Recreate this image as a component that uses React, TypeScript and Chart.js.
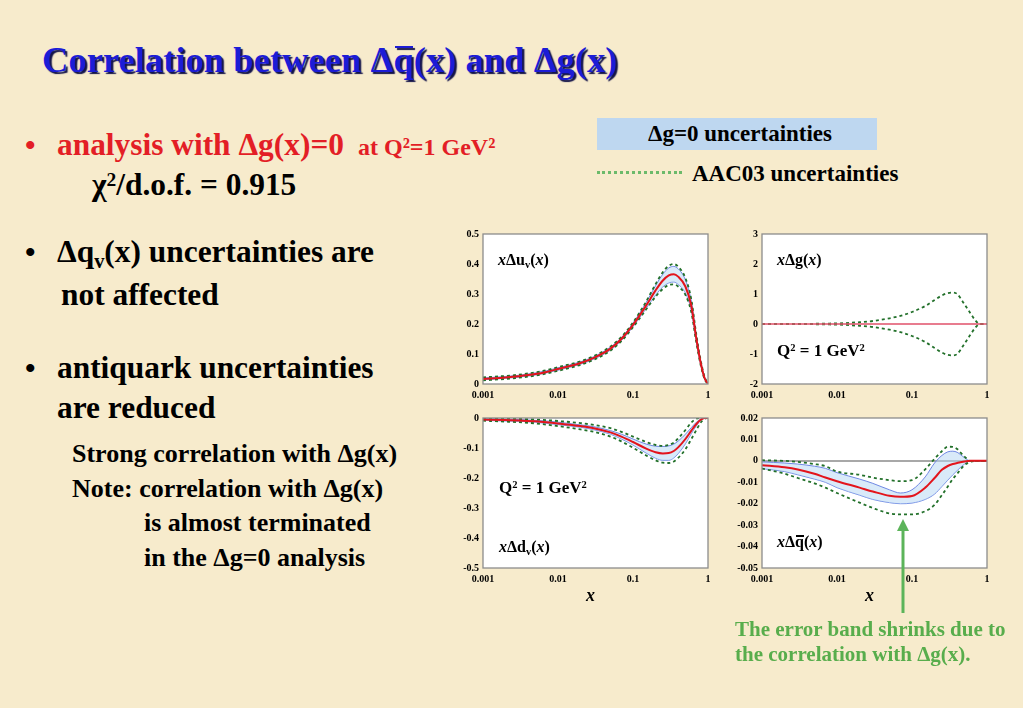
import React, { useEffect, useRef } from "react";
import { Chart, registerables } from "chart.js";
Chart.register(...registerables);

const SERIF = '"Liberation Serif","Times New Roman",Times,serif';

// ---- data ----
const X_GRID = [0.001, 0.002, 0.003, 0.005, 0.007, 0.01, 0.02, 0.03, 0.05, 0.07, 0.1, 0.15, 0.2, 0.25, 0.3, 0.35, 0.4, 0.5, 0.6, 0.7, 0.8, 0.9, 1];
const X_TICKS = [0.001, 0.01, 0.1, 1];

// x Δu_v(x)
const UV_Y_TICKS = [0, 0.1, 0.2, 0.3, 0.4, 0.5];
const UV_CENTRAL = [0.017, 0.022, 0.026, 0.033, 0.040, 0.050, 0.070, 0.087, 0.118, 0.150, 0.197, 0.262, 0.312, 0.345, 0.362, 0.366, 0.358, 0.325, 0.260, 0.150, 0.070, 0.020, 0];
const UV_BAND_UP = [0.020, 0.025, 0.029, 0.037, 0.044, 0.054, 0.074, 0.091, 0.123, 0.155, 0.203, 0.272, 0.328, 0.366, 0.387, 0.392, 0.384, 0.347, 0.276, 0.160, 0.076, 0.023, 0];
const UV_BAND_LO = [0.014, 0.019, 0.023, 0.030, 0.037, 0.046, 0.066, 0.083, 0.113, 0.145, 0.191, 0.252, 0.296, 0.324, 0.337, 0.340, 0.332, 0.303, 0.244, 0.140, 0.064, 0.017, 0];
const UV_AAC_UP = [0.022, 0.027, 0.031, 0.039, 0.046, 0.056, 0.076, 0.093, 0.125, 0.157, 0.205, 0.275, 0.333, 0.373, 0.394, 0.400, 0.391, 0.353, 0.281, 0.163, 0.078, 0.024, 0];
const UV_AAC_LO = [0.012, 0.017, 0.021, 0.028, 0.035, 0.044, 0.064, 0.081, 0.111, 0.143, 0.189, 0.249, 0.291, 0.317, 0.330, 0.332, 0.325, 0.297, 0.239, 0.137, 0.062, 0.016, 0];

// x Δg(x)
const G_Y_TICKS = [-2, -1, 0, 1, 2, 3];
const G_CENTRAL = [0, 0, 0, 0, 0, 0, 0, 0, 0, 0, 0, 0, 0, 0, 0, 0, 0, 0, 0, 0, 0, 0, 0];
const G_AAC_UP = [0, 0.002, 0.004, 0.008, 0.014, 0.02, 0.06, 0.10, 0.19, 0.27, 0.40, 0.60, 0.80, 0.95, 1.03, 1.05, 1.00, 0.66, 0.36, 0.12, 0, 0, 0];
const G_AAC_LO = [0, -0.002, -0.004, -0.008, -0.014, -0.02, -0.06, -0.10, -0.19, -0.27, -0.40, -0.60, -0.80, -0.95, -1.03, -1.05, -1.00, -0.66, -0.36, -0.12, 0, 0, 0];

// x Δd_v(x)
const DV_Y_TICKS = [-0.5, -0.4, -0.3, -0.2, -0.1, 0];
const DV_CENTRAL = [-0.005, -0.007, -0.008, -0.011, -0.014, -0.018, -0.027, -0.034, -0.048, -0.062, -0.080, -0.102, -0.114, -0.118, -0.117, -0.110, -0.098, -0.070, -0.042, -0.020, -0.006, 0, 0];
const DV_BAND_UP = [-0.002, -0.004, -0.005, -0.008, -0.010, -0.014, -0.023, -0.029, -0.042, -0.054, -0.070, -0.087, -0.094, -0.095, -0.093, -0.087, -0.077, -0.054, -0.032, -0.014, -0.004, 0, 0];
const DV_BAND_LO = [-0.008, -0.010, -0.011, -0.014, -0.018, -0.022, -0.031, -0.039, -0.054, -0.070, -0.090, -0.117, -0.134, -0.141, -0.141, -0.133, -0.119, -0.086, -0.052, -0.026, -0.008, 0, 0];
const DV_AAC_UP = [-0.001, -0.002, -0.003, -0.005, -0.007, -0.010, -0.017, -0.023, -0.034, -0.046, -0.062, -0.080, -0.090, -0.093, -0.090, -0.082, -0.068, -0.040, -0.015, -0.002, 0, 0, 0];
const DV_AAC_LO = [-0.009, -0.012, -0.014, -0.018, -0.022, -0.027, -0.038, -0.046, -0.062, -0.078, -0.099, -0.125, -0.141, -0.149, -0.150, -0.145, -0.133, -0.104, -0.070, -0.040, -0.015, -0.003, 0];

// x Δqbar(x)
const QB_Y_TICKS = [-0.05, -0.04, -0.03, -0.02, -0.01, 0, 0.01, 0.02];
const QB_CENTRAL = [-0.002, -0.003, -0.004, -0.006, -0.0078, -0.0095, -0.0125, -0.0143, -0.0163, -0.0168, -0.0164, -0.0125, -0.008, -0.0042, -0.0024, -0.0015, -0.001, -0.0003, 0, 0, 0, 0, 0];
const QB_BAND_UP = [-0.0005, -0.001, -0.0015, -0.0025, -0.0035, -0.0055, -0.0085, -0.0105, -0.0135, -0.015, -0.0135, -0.0075, -0.001, 0.0025, 0.0042, 0.0045, 0.004, 0.0015, 0, 0, 0, 0, 0];
const QB_BAND_LO = [-0.0036, -0.005, -0.0065, -0.0085, -0.010, -0.0125, -0.016, -0.018, -0.0195, -0.020, -0.0197, -0.018, -0.0155, -0.012, -0.009, -0.0065, -0.0045, -0.0015, 0, 0, 0, 0, 0];
const QB_AAC_UP = [0.0003, 0, -0.0005, -0.0015, -0.0025, -0.005, -0.0065, -0.0078, -0.009, -0.0095, -0.009, -0.004, 0.001, 0.0045, 0.0066, 0.0065, 0.0055, 0.002, 0, 0, 0, 0, 0];
const QB_AAC_LO = [-0.0036, -0.006, -0.008, -0.0105, -0.0125, -0.015, -0.0195, -0.022, -0.0245, -0.025, -0.025, -0.0235, -0.0205, -0.016, -0.012, -0.0085, -0.006, -0.002, -0.0005, 0, 0, 0, 0];

// ---- chart panel ----
const YW = 45; // y-axis width
const XH = 20; // x-axis height
const PT = 10; // top padding
const PR = 12; // right padding
const PW = 225; // plot width
const PH = 150; // plot height

const framePlugin = {
  id: "frame",
  beforeDraw(chart: any) {
    const { ctx, chartArea: a } = chart;
    ctx.save();
    ctx.fillStyle = "#ffffff";
    ctx.fillRect(a.left, a.top, a.right - a.left, a.bottom - a.top);
    ctx.restore();
  },
  afterDraw(chart: any) {
    const { ctx, chartArea: a } = chart;
    ctx.save();
    ctx.strokeStyle = "#8c8c8c";
    ctx.lineWidth = 1.3;
    ctx.strokeRect(a.left, a.top, a.right - a.left, a.bottom - a.top);
    ctx.restore();
  },
};

type PanelProps = {
  plotLeft: number;
  plotTop: number;
  yTicks: number[];
  central: number[];
  centralWidth?: number;
  bandUp?: number[];
  bandLo?: number[];
  aacUp: number[];
  aacLo: number[];
  zeroLine?: boolean;
};

function Panel(props: PanelProps) {
  const ref = useRef<HTMLCanvasElement>(null);
  const { plotLeft, plotTop, yTicks } = props;
  const w = YW + PW + PR;
  const h = PT + PH + XH;
  useEffect(() => {
    const pts = (arr: number[]) => X_GRID.map((x, i) => ({ x, y: arr[i] }));
    const common = { pointRadius: 0, cubicInterpolationMode: "monotone" as const, fill: false };
    const datasets: any[] = [
      { ...common, data: pts(props.central), borderColor: props.centralWidth ? "#e0506a" : "#e3141c", borderWidth: props.centralWidth ?? 2, order: 0 },
      { ...common, data: pts(props.aacUp), borderColor: "#22702a", borderWidth: 1.8, borderDash: [3, 3], order: 1 },
      { ...common, data: pts(props.aacLo), borderColor: "#22702a", borderWidth: 1.8, borderDash: [3, 3], order: 1 },
    ];
    if (props.bandUp && props.bandLo) {
      datasets.push({ ...common, data: pts(props.bandUp), borderColor: "#7088e4", borderWidth: 1, fill: "+1", backgroundColor: "rgba(180,214,244,0.5)", order: 2 });
      datasets.push({ ...common, data: pts(props.bandLo), borderColor: "#7088e4", borderWidth: 1, order: 2 });
    }
    const tickFont = { family: SERIF, size: 10, weight: "bold" as const };
    const hiddenGrid = { display: true, drawOnChartArea: false, drawTicks: false, tickLength: 0, color: "rgba(0,0,0,0)" };
    const chart = new Chart(ref.current!, {
      type: "line",
      data: { datasets },
      plugins: [framePlugin],
      options: {
        animation: false,
        responsive: false,
        maintainAspectRatio: false,
        layout: { padding: { top: PT, right: PR, left: 0, bottom: 0 } },
        plugins: { legend: { display: false }, tooltip: { enabled: false } },
        scales: {
          x: {
            type: "logarithmic",
            min: 0.001,
            max: 1,
            afterBuildTicks: (s: any) => {
              s.ticks = X_TICKS.map((v) => ({ value: v }));
            },
            afterFit: (s: any) => {
              s.height = XH;
            },
            ticks: { autoSkip: false, maxRotation: 0, padding: 5, font: tickFont, color: "#000", callback: (v: any) => String(v) },
            grid: hiddenGrid,
            border: { display: false },
          },
          y: {
            type: "linear",
            min: yTicks[0],
            max: yTicks[yTicks.length - 1],
            afterBuildTicks: (s: any) => {
              s.ticks = yTicks.map((v) => ({ value: v }));
            },
            afterFit: (s: any) => {
              s.width = YW;
            },
            ticks: { autoSkip: false, padding: 4, font: tickFont, color: "#000", callback: (v: any) => String(+Number(v).toFixed(3)) },
            grid: props.zeroLine
              ? {
                  drawTicks: false,
                  tickLength: 0,
                  lineWidth: 2,
                  color: (ctx: any) => (ctx.tick && ctx.tick.value === 0 ? "#a8a8a8" : "rgba(0,0,0,0)"),
                }
              : hiddenGrid,
            border: { display: false },
          },
        },
      },
    } as any);
    return () => chart.destroy();
  }, []);
  return (
    <canvas
      ref={ref}
      width={w}
      height={h}
      style={{ position: "absolute", left: plotLeft - YW, top: plotTop - PT, width: w, height: h }}
    />
  );
}

// ---- text helpers ----
function Txt({ x, y, size, color = "#000", style, children }: any) {
  return (
    <div
      style={{
        position: "absolute",
        left: x,
        top: y - 0.8375 * size,
        fontSize: size,
        lineHeight: `${size}px`,
        fontFamily: SERIF,
        fontWeight: "bold",
        color,
        whiteSpace: "nowrap",
        ...style,
      }}
    >
      {children}
    </div>
  );
}
const Sub = ({ children }: any) => (
  <span style={{ fontSize: "0.65em", position: "relative", top: "0.3em", lineHeight: 0 }}>{children}</span>
);
const Sup = ({ children }: any) => (
  <span style={{ fontSize: "0.62em", position: "relative", top: "-0.45em", lineHeight: 0 }}>{children}</span>
);
const I = ({ children }: any) => <span style={{ fontStyle: "italic" }}>{children}</span>;
const Bar = ({ children, shadow }: any) => (
  <span style={{ position: "relative" }}>
    {children}
    <span
      style={{
        position: "absolute",
        left: "0.04em",
        right: "0.02em",
        top: "0.17em",
        height: "0.075em",
        background: "currentColor",
        boxShadow: shadow,
      }}
    />
  </span>
);

export default function App() {
  return (
    <div
      style={{
        position: "fixed",
        left: 0,
        top: 0,
        width: 1023,
        height: 708,
        overflow: "hidden",
        background: "#f7ebcc",
        fontFamily: SERIF,
      }}
    >
      <Txt x={42} y={73} size={36.6} color="#1c1cd6" style={{ textShadow: "2px 2px 1px #14144a" }}>
        Correlation between Δ<Bar shadow="2px 2px 1px #14144a">q</Bar>(x) and Δg(x)
      </Txt>

      <Txt x={25} y={155} size={30} color="#e31e26">•</Txt>
      <Txt x={57} y={155} size={31.4} color="#e31e26">analysis with Δg(x)=0</Txt>
      <Txt x={358} y={155} size={24} color="#e31e26">at Q²=1 GeV²</Txt>
      <Txt x={92} y={195} size={31.4}>
        χ<Sup>2</Sup>/d.o.f. = 0.915
      </Txt>

      <Txt x={25} y={262} size={30}>•</Txt>
      <Txt x={57} y={262} size={31.4}>
        Δq<Sub>v</Sub>(x) uncertainties are
      </Txt>
      <Txt x={61} y={305} size={31.4}>not affected</Txt>

      <Txt x={25} y={378} size={30}>•</Txt>
      <Txt x={57} y={378} size={31.4}>antiquark uncertainties</Txt>
      <Txt x={57} y={418} size={31.4}>are reduced</Txt>

      <Txt x={72} y={463} size={26}>Strong correlation with Δg(x)</Txt>
      <Txt x={72} y={498} size={26}>Note: correlation with Δg(x)</Txt>
      <Txt x={144} y={532} size={26}>is almost terminated</Txt>
      <Txt x={144} y={567} size={26}>in the Δg=0 analysis</Txt>

      {/* legend */}
      <div style={{ position: "absolute", left: 597, top: 118, width: 280, height: 32, background: "#bed7f0" }} />
      <Txt x={648} y={141} size={23}>Δg=0 uncertainties</Txt>
      <div style={{ position: "absolute", left: 597, top: 171, width: 85, height: 0, borderTop: "3px dotted #6cba6a" }} />
      <Txt x={692} y={181} size={23}>AAC03 uncertainties</Txt>

      {/* charts */}
      <Panel plotLeft={483} plotTop={234} yTicks={UV_Y_TICKS} central={UV_CENTRAL} bandUp={UV_BAND_UP} bandLo={UV_BAND_LO} aacUp={UV_AAC_UP} aacLo={UV_AAC_LO} />
      <Panel plotLeft={762} plotTop={234} yTicks={G_Y_TICKS} central={G_CENTRAL} centralWidth={1.3} aacUp={G_AAC_UP} aacLo={G_AAC_LO} />
      <Panel plotLeft={483} plotTop={418} yTicks={DV_Y_TICKS} central={DV_CENTRAL} bandUp={DV_BAND_UP} bandLo={DV_BAND_LO} aacUp={DV_AAC_UP} aacLo={DV_AAC_LO} />
      <Panel plotLeft={762} plotTop={418} yTicks={QB_Y_TICKS} central={QB_CENTRAL} bandUp={QB_BAND_UP} bandLo={QB_BAND_LO} aacUp={QB_AAC_UP} aacLo={QB_AAC_LO} zeroLine />

      {/* panel labels */}
      <Txt x={498} y={265} size={16}>
        <I>x</I>Δu<Sub>v</Sub>(<I>x</I>)
      </Txt>
      <Txt x={777} y={265} size={16}>
        <I>x</I>Δg(<I>x</I>)
      </Txt>
      <Txt x={777} y={356} size={17}>
        Q<Sup>2</Sup> = 1 GeV<Sup>2</Sup>
      </Txt>
      <Txt x={499} y={493} size={17}>
        Q<Sup>2</Sup> = 1 GeV<Sup>2</Sup>
      </Txt>
      <Txt x={499} y={552} size={16}>
        <I>x</I>Δd<Sub>v</Sub>(<I>x</I>)
      </Txt>
      <Txt x={777} y={547} size={16}>
        <I>x</I>Δ<Bar>q</Bar>(<I>x</I>)
      </Txt>
      <Txt x={586} y={601} size={18}>
        <I>x</I>
      </Txt>
      <Txt x={865} y={601} size={18}>
        <I>x</I>
      </Txt>

      {/* arrow */}
      <svg width={1023} height={708} style={{ position: "absolute", left: 0, top: 0, pointerEvents: "none" }}>
        <line x1={903} y1={613} x2={903} y2={528} stroke="#5cb45a" strokeWidth={3} />
        <polygon points="903,519 897,531 909,531" fill="#5cb45a" />
      </svg>

      <Txt x={735} y={637} size={21} color="#58ad4c">The error band shrinks due to</Txt>
      <Txt x={735} y={662} size={21} color="#58ad4c">the correlation with Δg(x).</Txt>
    </div>
  );
}
